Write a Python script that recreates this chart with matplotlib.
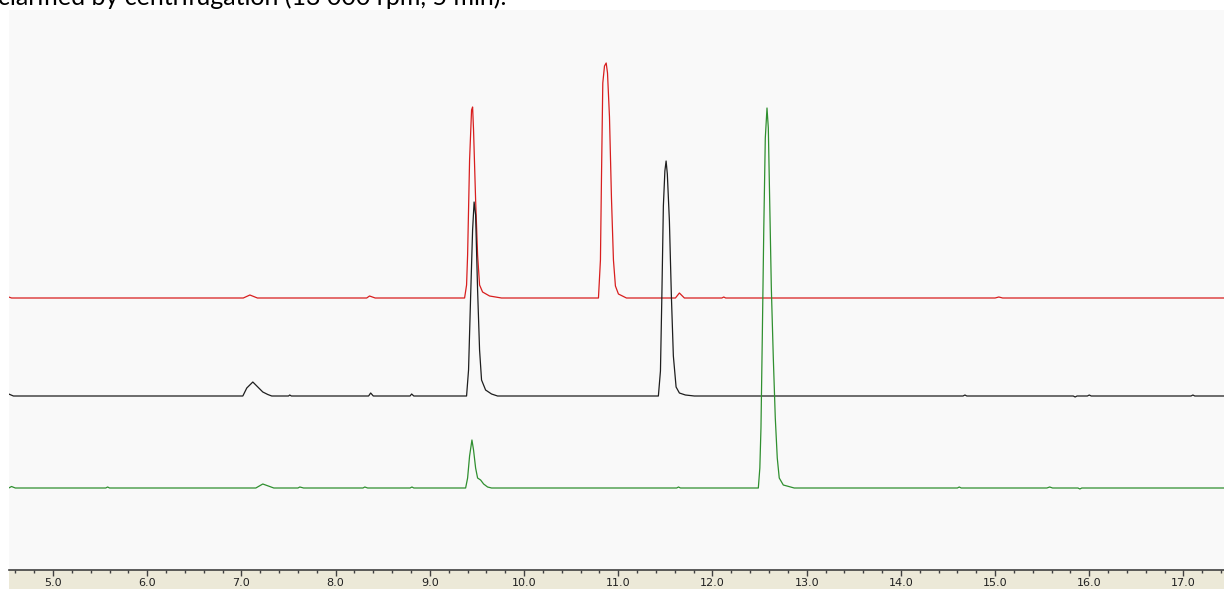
import matplotlib
matplotlib.use("Agg")
import matplotlib.pyplot as plt
from matplotlib.patches import Rectangle

# retention time (min) and signal above each trace's own baseline (arbitrary units)
red_t = [4.53, 4.56, 7.02, 7.09, 7.17, 8.33, 8.36, 8.42,
         9.369, 9.390, 9.401, 9.422, 9.443, 9.454, 9.464, 9.486, 9.507, 9.528, 9.560, 9.634, 9.761,
         10.790, 10.811, 10.822, 10.836, 10.854, 10.872, 10.886, 10.907, 10.928, 10.949, 10.970, 11.002, 11.087,
         11.607, 11.649, 11.702, 12.10, 12.12, 12.14, 15.00, 15.04, 15.08, 17.43]
red_y = [1, 0, 0, 3, 0, 0, 2, 0,
         0, 13, 43, 138, 188, 191, 168, 98, 43, 13, 6, 2, 0,
         0, 38, 120, 215, 232, 235, 225, 181, 100, 38, 12, 4, 0,
         0, 5, 0, 0, 1, 0, 0, 1, 0, 0]

black_t = [4.53, 4.58, 7.015, 7.057, 7.121, 7.174, 7.227, 7.280, 7.322, 7.50, 7.513, 7.53,
           8.35, 8.372, 8.40, 8.79, 8.807, 8.83,
           9.390, 9.411, 9.432, 9.454, 9.470, 9.486, 9.507, 9.528, 9.549, 9.592, 9.655, 9.719,
           11.426, 11.448, 11.463, 11.479, 11.495, 11.508, 11.521, 11.543, 11.564, 11.585, 11.614, 11.649, 11.713, 11.808,
           14.66, 14.68, 14.70, 15.83, 15.85, 15.87, 15.98, 16.00, 16.02, 17.08, 17.10, 17.12, 17.43]
black_y = [2, 0, 0, 8, 14, 9, 4, 1.5, 0, 0, 1, 0,
           0, 3, 0, 0, 2, 0,
           0, 26, 96, 166, 194, 181, 106, 46, 16, 6, 2, 0,
           0, 25, 100, 190, 225, 235, 222, 175, 100, 40, 9, 3, 1, 0,
           0, 1, 0, 0, -1, 0, 0, 1, 0, 0, 1, 0, 0]

green_t = [4.53, 4.56, 4.60, 5.56, 5.58, 5.60, 7.153, 7.227, 7.344, 7.60, 7.62, 7.66, 8.29, 8.31, 8.34, 8.79, 8.81, 8.83,
           9.380, 9.401, 9.422, 9.447, 9.464, 9.486, 9.507, 9.539, 9.571, 9.613, 9.655,
           11.62, 11.64, 11.66,
           12.487, 12.503, 12.515, 12.529, 12.545, 12.561, 12.579, 12.593, 12.609, 12.625, 12.646, 12.667, 12.688,
           12.709, 12.752, 12.868,
           14.60, 14.62, 14.64, 15.55, 15.58, 15.61, 15.88, 15.90, 15.92, 17.43]
green_y = [0, 1.5, 0, 0, 1, 0, 0, 4, 0, 0, 1, 0, 0, 1, 0, 0, 1, 0,
           0, 10, 32, 48, 38, 20, 10, 8, 4, 1, 0,
           0, 1, 0,
           0, 20, 60, 150, 260, 350, 380, 360, 280, 200, 130, 70, 30,
           10, 3, 0,
           0, 1, 0, 0, 1, 0, 0, -1, 0, 0]

xticks = [5.0, 6.0, 7.0, 8.0, 9.0, 10.0, 11.0, 12.0, 13.0, 14.0, 15.0, 16.0, 17.0]

W, H = 1224, 589
fig = plt.figure(figsize=(W / 100, H / 100), dpi=100)
fig.patch.set_facecolor("white")

# caption line cut off at the top of the page
fig.text(0.0 - 2 / W, 1 - 5 / H, "clarified by centrifugation (13 000 rpm, 5 min).",
         fontsize=18, family="Lato", color="black", va="baseline", ha="left")

# beige band behind the time axis
fig.patches.append(Rectangle((9 / W, 0), 1215 / W, 19 / H, transform=fig.transFigure,
                             facecolor="#ece9d8", edgecolor="none", zorder=-5))

ax = fig.add_axes([9 / W, 19 / H, 1215 / W, 560 / H])
ax.set_facecolor("#f9f9f9")

# stacked traces: each one drawn above its own baseline
ax.plot(red_t, [v + 272 for v in red_y], color="#d81e1e", lw=0.9)
ax.plot(black_t, [v + 174 for v in black_y], color="#1e1e1e", lw=0.9)
ax.plot(green_t, [v + 82 for v in green_y], color="#2f8f2f", lw=0.9)

ax.set_xlim(4.533, 17.43)
ax.set_ylim(0, 560)

for s in ["left", "right", "top"]:
    ax.spines[s].set_visible(False)
ax.spines["bottom"].set_color("#404040")
ax.spines["bottom"].set_linewidth(1.2)

ax.set_yticks([])
ax.set_xticks(xticks)
ax.set_xticklabels([f"{v:.1f}" for v in xticks])
ax.set_xticks([5.0 + 0.2 * i for i in range(-2, 63)], minor=True)
ax.tick_params(axis="x", which="major", direction="out", length=4, width=1, color="#404040",
               pad=1.5, labelsize=8, labelcolor="#202020")
ax.tick_params(axis="x", which="minor", direction="out", length=1.8, width=1, color="#404040")

fig.savefig("out.png", dpi=100)
